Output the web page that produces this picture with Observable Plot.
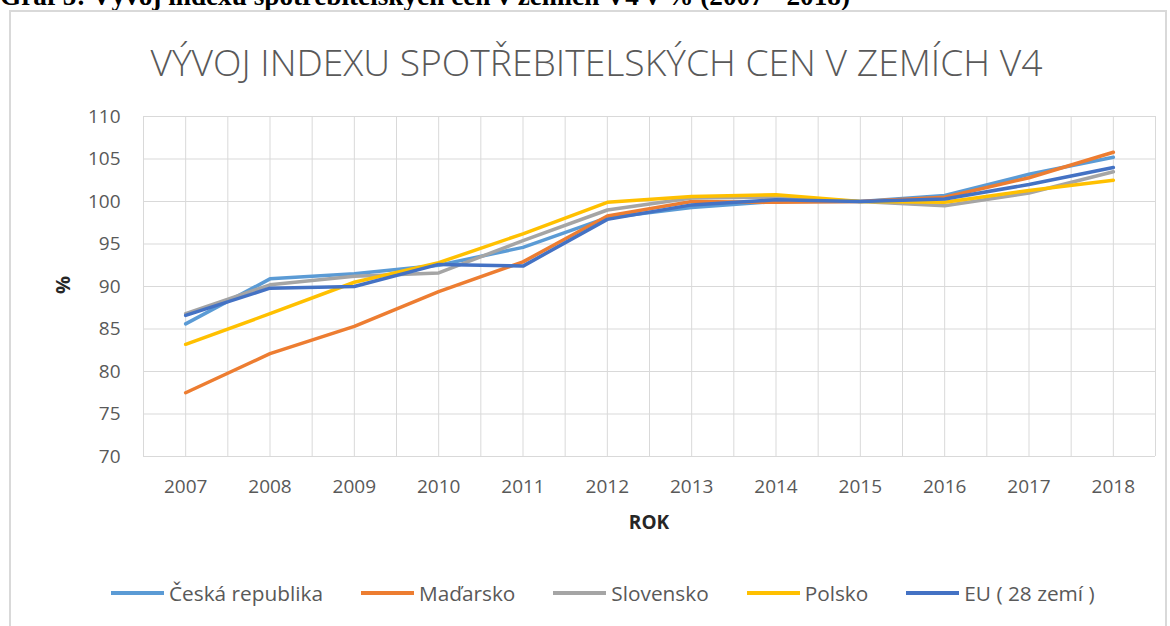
<!DOCTYPE html>
<html>
<head>
<meta charset="utf-8">
<script src="https://cdn.jsdelivr.net/npm/d3@7"></script>
<script src="https://cdn.jsdelivr.net/npm/@observablehq/plot@0.6"></script>
<style>
  html, body { margin: 0; padding: 0; background: #fff; }
  body { width: 1170px; height: 626px; position: relative; overflow: hidden; font-family: "Open Sans", sans-serif; }
  #caption { position: absolute; left: 0; top: -17px; line-height: 1; font-family: "Liberation Serif", "Times New Roman", serif; font-weight: bold; font-size: 27px; color: #000; white-space: nowrap; transform-origin: left top; }
  #frame { position: absolute; left: 9px; top: 10px; width: 1158px; height: 660px; border: 2px solid #d9d9d9; box-sizing: border-box; }
  #title { position: absolute; top: 36px; left: 0; width: 1192px; text-align: center; }
  #title span { display: inline-block; font-family: "Open Sans", sans-serif; font-weight: 300; font-size: 37px; color: #595959; white-space: nowrap; transform-origin: center; }
  #chart { position: absolute; left: 0; top: 90px; }
  #ylabel { position: absolute; left: 62px; top: 285px; transform: translate(-50%, -50%) rotate(-90deg); font-weight: bold; font-size: 20px; color: #262626; }
  #xlabel { position: absolute; left: 649px; top: 522px; transform: translate(-50%, -50%); font-weight: bold; font-size: 19px; color: #262626; }
  #legend { position: absolute; top: 576px; left: 111px; height: 34px; display: flex; align-items: center; gap: 38px; font-size: 20.8px; color: #595959; white-space: nowrap; }
  .item { display: flex; align-items: center; gap: 5px; }
  .swatch { width: 53px; height: 4px; }
</style>
</head>
<body>
<div id="caption">Graf 5: Vývoj indexu spotřebitelských cen v zemích V4 v % (2007 - 2018)</div>
<div id="frame"></div>
<div id="title"><span id="titletext">VÝVOJ INDEXU SPOTŘEBITELSKÝCH CEN V ZEMÍCH V4</span></div>
<div id="chart"></div>
<div id="ylabel">%</div>
<div id="xlabel">ROK</div>
<div id="legend"></div>
<script>
const years = [2007, 2008, 2009, 2010, 2011, 2012, 2013, 2014, 2015, 2016, 2017, 2018];
const czech    = [85.6, 90.9, 91.5, 92.5, 94.6, 98.1, 99.3, 100.0, 100.0, 100.7, 103.2, 105.2];
const hungary  = [77.5, 82.1, 85.3, 89.4, 92.9, 98.3, 100.0, 99.9, 100.0, 100.5, 102.8, 105.8];
const slovakia = [86.8, 90.2, 91.2, 91.6, 95.4, 99.0, 100.4, 100.5, 100.0, 99.5, 101.0, 103.5];
const poland   = [83.2, 86.8, 90.5, 92.8, 96.2, 99.9, 100.6, 100.8, 100.0, 99.9, 101.3, 102.5];
const eu       = [86.6, 89.8, 90.0, 92.6, 92.4, 97.9, 99.6, 100.2, 100.0, 100.3, 102.0, 104.0];
const seriesNames = ["Česká republika", "Maďarsko", "Slovensko", "Polsko", "EU ( 28 zemí )"];
const seriesValues = [czech, hungary, slovakia, poland, eu];
const colors = ["#5B9BD5", "#ED7D31", "#A5A5A5", "#FFC000", "#4472C4"];
const yTicks = [70, 75, 80, 85, 90, 95, 100, 105, 110];

const rows = [];
seriesNames.forEach((name, i) => {
  years.forEach((yr, j) => rows.push({series: name, year: yr, value: seriesValues[i][j]}));
});
const gridX = [];
for (let i = 0; i <= years.length * 2; i++) gridX.push(years[0] - 0.5 + i * 0.5);

const plot = Plot.plot({
  width: 1170,
  height: 460,
  marginTop: 26,
  marginBottom: 94,
  marginLeft: 143,
  marginRight: 15,
  style: {fontFamily: "'Open Sans', sans-serif", fontSize: "19px", color: "#595959", background: "transparent"},
  x: {domain: [years[0] - 0.5, years[years.length - 1] + 0.5]},
  y: {domain: [70, 110]},
  color: {domain: seriesNames, range: colors},
  marks: [
    Plot.ruleX(gridX, {stroke: "#d9d9d9", strokeWidth: 1}),
    Plot.ruleY(yTicks, {stroke: "#d9d9d9", strokeWidth: 1}),
    Plot.axisX(years, {tickSize: 0, tickPadding: 23, tickFormat: d => String(d), label: null}),
    Plot.axisY(yTicks, {tickSize: 0, tickPadding: 23, label: null}),
    Plot.line(rows, {x: "year", y: "value", z: "series", stroke: "series", strokeWidth: 3.5, strokeLinejoin: "round", strokeLinecap: "round"})
  ]
});
document.getElementById("chart").appendChild(plot);

const legend = document.getElementById("legend");
seriesNames.forEach((name, i) => {
  const item = document.createElement("div");
  item.className = "item";
  const sw = document.createElement("div");
  sw.className = "swatch";
  sw.style.background = colors[i];
  const lab = document.createElement("span");
  lab.textContent = name;
  item.appendChild(sw);
  item.appendChild(lab);
  legend.appendChild(item);
});

const t = document.getElementById("titletext");
const w = t.getBoundingClientRect().width;
t.style.transform = `scaleX(${892 / w})`;

const c = document.getElementById("caption");
const cw = c.getBoundingClientRect().width;
c.style.transform = `scaleX(${850 / cw})`;
</script>
</body>
</html>
